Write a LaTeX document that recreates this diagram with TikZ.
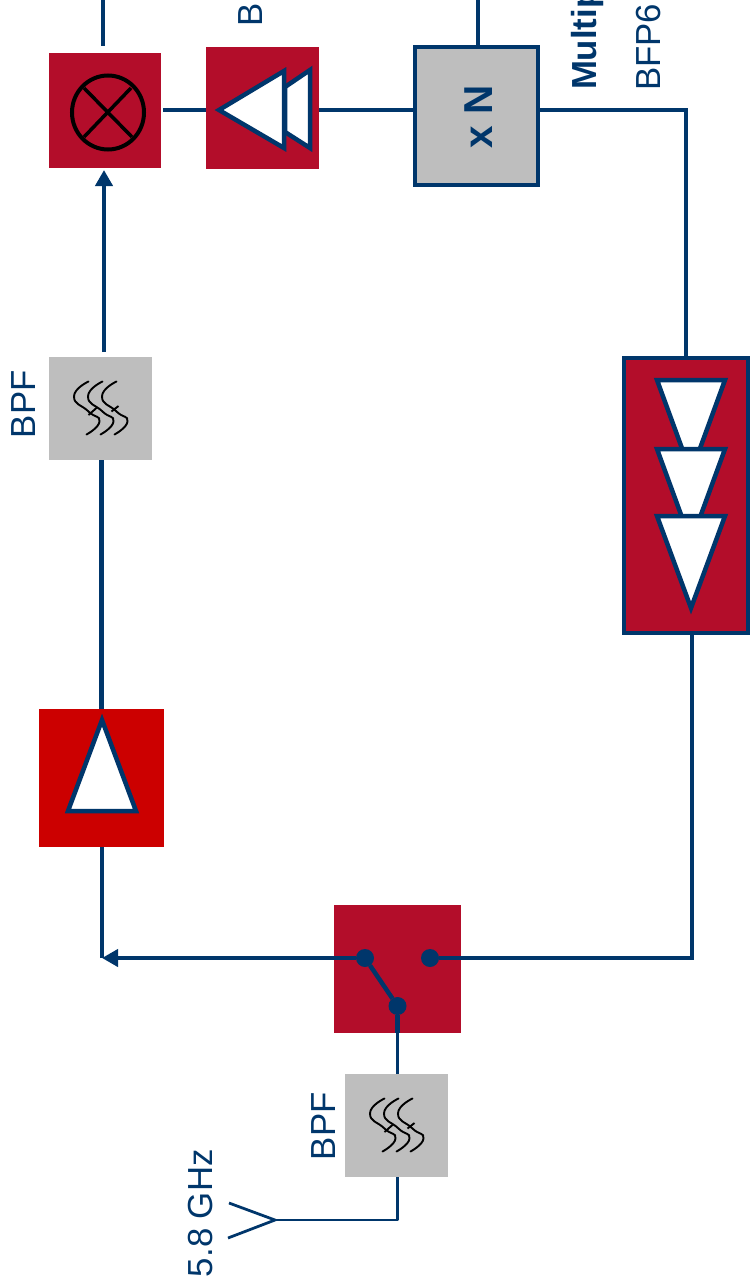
\documentclass[tikz,border=0pt]{standalone}
\usepackage{xcolor}
\usepackage{fontspec}
\setmainfont{Liberation Sans}
\usetikzlibrary{arrows.meta}
\definecolor{navy}{HTML}{00366B}
\definecolor{darkred}{HTML}{B30D2A}
\definecolor{ampred}{HTML}{CC0000}
\definecolor{boxgray}{HTML}{BEBEBE}
\tikzset{
	block/.style={rectangle,inner sep=0pt,outer sep=0pt},
	signal/.style={navy,line width=0.9mm},
	thin signal/.style={navy,line width=0.55mm},
	amptri/.style={draw=navy,fill=white,line width=0.9mm,line join=miter},
	dot/.style={circle,fill=navy,minimum size=3.6mm,inner sep=0pt,outer sep=0pt},
	label/.style={navy,rotate=90,anchor=base west,inner sep=0pt,outer sep=0pt,font=\fontsize{19.8}{22}\selectfont},
	arrowtip/.style={-{Triangle[width=3.4mm,length=3.2mm]}},
	pics/filtersym/.style={code={
		\foreach \dx in {0,14,28}
			\draw[black,line width=0.38mm,line cap=round] plot[smooth, tension=1] coordinates {(-12+\dx,-27) (-26.5+\dx,-12) (-12+\dx,3) (-1+\dx,13) (-14+\dx,26)};
		\draw[black,line width=0.38mm] (-12,6.5) -- (-3.5,-1) (11,3) -- (18,-2.5);
	}}
}
\begin{document}
\begin{tikzpicture}[x=0.2mm,y=-0.2mm]
	\useasboundingbox (0,0) rectangle (751,1285);
	% blocks
	\node[block,fill=darkred,minimum width=22.4mm,minimum height=23mm] (mixer) at (105,110.5) {};
	\node[block,fill=darkred,minimum width=22.6mm,minimum height=24.4mm] (driver) at (262.5,108) {};
	\node[block,fill=boxgray,draw=navy,line width=0.7mm,minimum width=24.6mm,minimum height=27.6mm] (xn) at (476.5,116) {};
	\node[block,fill=boxgray,minimum width=20.6mm,minimum height=20.6mm] (bpfa) at (100.5,408.5) {};
	\node[block,fill=ampred,minimum width=25mm,minimum height=27.6mm] (amp) at (101.5,778) {};
	\node[block,fill=darkred,draw=navy,line width=0.7mm,minimum width=24.8mm,minimum height=55mm] (chain) at (686,495.5) {};
	\node[block,fill=darkred,minimum width=25.4mm,minimum height=25.6mm] (switch) at (397.5,969) {};
	\node[block,fill=boxgray,minimum width=20.6mm,minimum height=20.6mm] (bpfb) at (396.5,1125.5) {};
	% helper points
	\coordinate (lotop) at (103,0);
	\coordinate (xntop) at (478,0);
	\coordinate (lvl) at (686,110);
	\coordinate (chainout) at (692,958);
	\coordinate (turn) at (102,958);
	\coordinate (bpfout) at (104,352);
	\coordinate (antfeed) at (275,1220);
	\coordinate (antup) at (229,1203);
	\coordinate (antdown) at (228,1238);
	% switch
	\node[dot] (swa) at (365,958) {};
	\node[dot] (swb) at (430,958) {};
	\node[dot] (swc) at (397.5,1006) {};
	% connectors
	\draw[signal,shorten >=1.4mm] (lotop) -- (lotop |- mixer.north);
	\draw[signal] (xntop) -- (xntop |- xn.north);
	\draw[signal,shorten >=0.4mm] (driver.west |- lvl) -- (mixer.east |- lvl);
	\draw[signal] (xn.west |- lvl) -- (driver.east |- lvl);
	\draw[signal] (xn.east |- lvl) -- (lvl) -- (lvl |- chain.north);
	\draw[signal] (chainout |- chain.south) -- (chainout) -- (swb);
	\draw[signal,arrowtip] (swa) -- (turn);
	\draw[signal] (turn) -- (turn |- amp.south);
	\draw[signal] (amp.north) -- (amp.north |- bpfa.south);
	\draw[signal,arrowtip,shorten >=0.4mm] (bpfout) -- (bpfout |- mixer.south);
	\draw[signal] (swa) -- (swc);
	\draw[signal] (swc) -- (swc |- switch.south);
	\draw[thin signal] (swc |- switch.south) -- (swc |- bpfb.north);
	\draw[thin signal,line join=round] (swc |- bpfb.south) -- (swc |- antfeed) -- (antfeed);
	\draw[thin signal] (antup) -- (antfeed) -- (antdown);
	% symbols
	\draw[black,line width=0.8mm] (108,112.5) ellipse [x radius=36,y radius=37];
	\draw[black,line width=0.7mm] (84,88) -- (132,137) (131,88) -- (84,137);
	\draw[amptri] (310,70) -- (310,148) -- (285,132) -- (285,87) -- cycle;
	\draw[amptri] (219,110) -- (284,71) -- (284,148) -- cycle;
	\draw[amptri] (102,720) -- (68,811) -- (136,811) -- cycle;
	\foreach \ytop/\ytip in {380/473,449/542,516/608}
		\draw[amptri] (657,\ytop) -- (725,\ytop) -- (691,\ytip) -- cycle;
	\pic at (bpfa) {filtersym};
	\pic at (bpfb) {filtersym};
	% labels
	\node[label] (lblbpfa) at (36,438) {BPF};
	\node[label] (lblbpfb) at (335,1160) {BPF};
	\node[label] (lblant) at (212.5,1277) {5.8 GHz};
	\node[label] (lblbuf) at (262,27) {B};
	\node[label,font=\fontsize{19.8}{22}\selectfont\bfseries] (lblmult) at (596,90) {Multip};
	\node[label] (lblbfp) at (660,91) {BFP6};
	\node[navy,rotate=90,inner sep=0pt,font=\fontsize{23}{25}\selectfont\bfseries] (lblxn) at (479,117) {x N};
\end{tikzpicture}
\end{document}
